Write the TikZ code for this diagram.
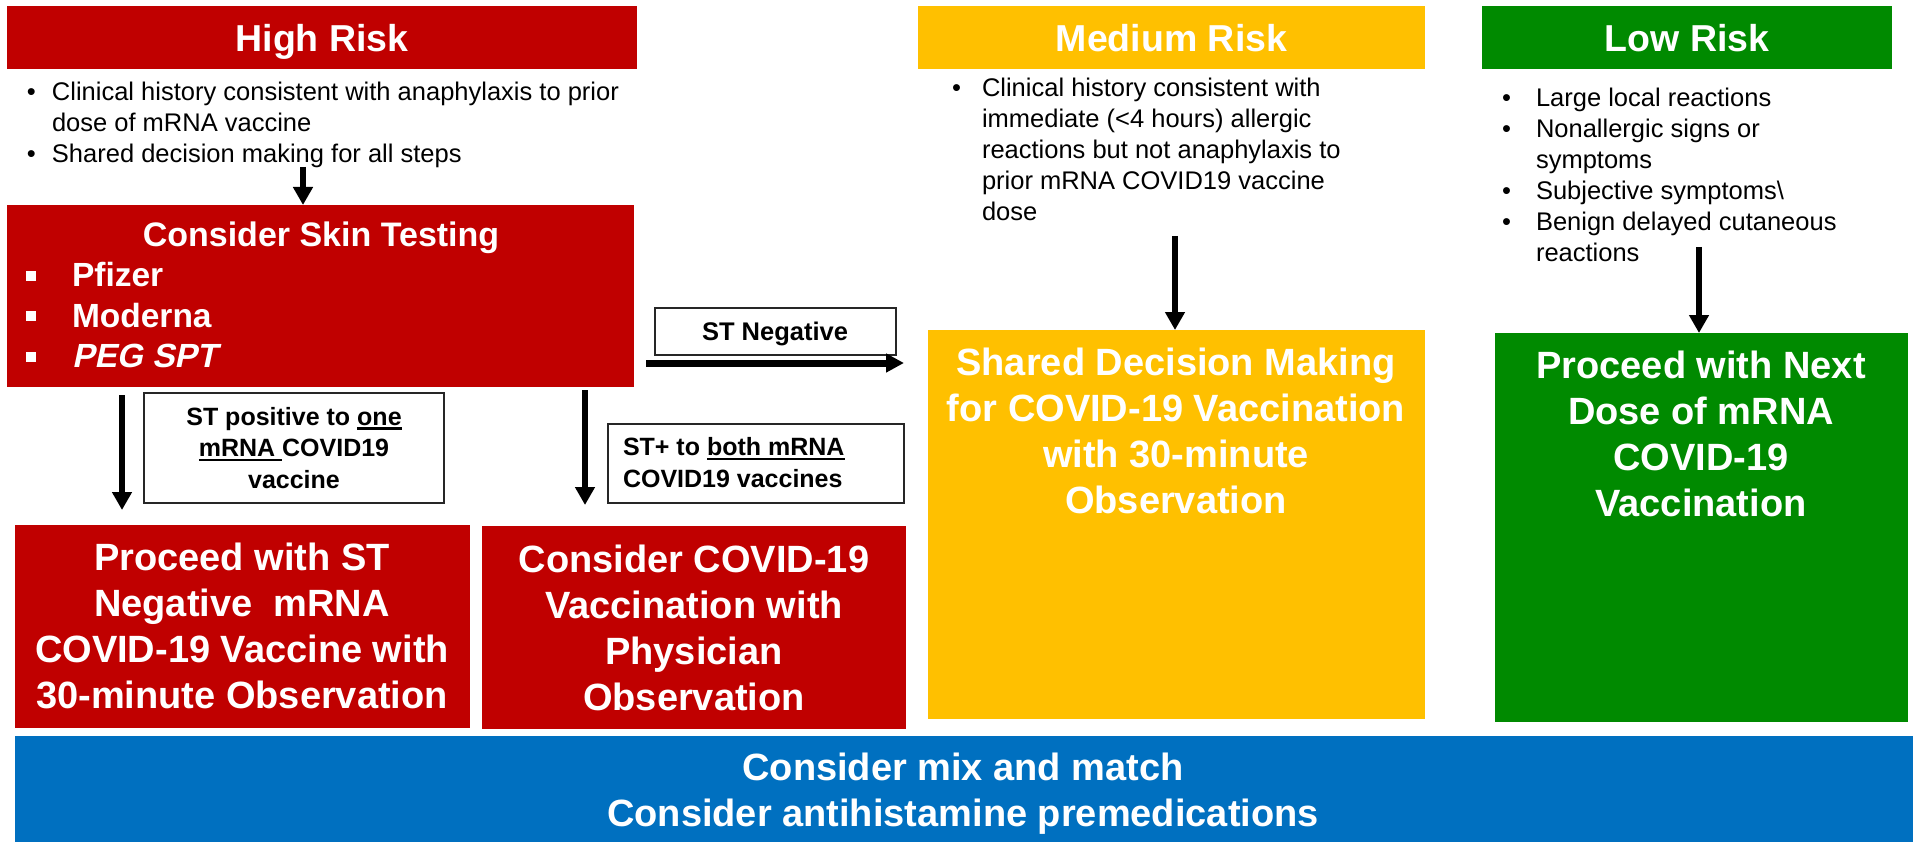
\documentclass[tikz,border=0pt]{standalone}
\usepackage{fontspec}
\setmainfont{Liberation Sans}
\newfontfamily\pegfont{Liberation Sans}[BoldFeatures={FakeSlant=0.21}]
\usetikzlibrary{arrows.meta}
\definecolor{hred}{HTML}{C00000}
\definecolor{mgold}{HTML}{FFC000}
\definecolor{lgreen}{HTML}{008A00}
\definecolor{bblue}{HTML}{0070C0}
\newcommand\myul[1]{\setbox0\hbox{#1}\rlap{\rule[-4.5pt]{\wd0}{2.5pt}}\box0}
\newcommand\sqb{\rule[6pt]{10pt}{10pt}}
\begin{document}
\begin{tikzpicture}[x=1pt,y=-1pt,
  every node/.style={inner sep=0pt,outer sep=0pt},
  box/.style={anchor=north west,draw=none},
  head/.style={text=white,font=\fontsize{37.5pt}{45pt}\selectfont\bfseries,anchor=base},
  bigtxt/.style={text=white,font=\fontsize{38pt}{46pt}\selectfont\bfseries,align=center,anchor=base},
  bultxt/.style={font=\fontsize{25.5pt}{31pt}\selectfont,anchor=base west},
  labbox/.style={anchor=north west,draw=black!85,line width=1.5pt,fill=white},
  labtxt/.style={font=\fontsize{25pt}{31.5pt}\selectfont\bfseries,align=center,anchor=base},
  arr/.style={line width=5.5pt,-{Triangle[width=19pt,length=18pt]}},
  arrh/.style={line width=7pt,-{Triangle[width=18pt,length=18pt]}}]
\useasboundingbox (0,0) rectangle (1918,842);

% headers
\node[box,fill=hred,minimum width=630pt,minimum height=63pt] (hrh) at (7,6) {};
\node[head] (hrt) at (322,52) {High Risk};
\node[box,fill=mgold,minimum width=507pt,minimum height=63pt] (mrh) at (918,6) {};
\node[head] (mrt) at (1171.5,52) {Medium Risk};
\node[box,fill=lgreen,minimum width=410pt,minimum height=63pt] (lrh) at (1482,6) {};
\node[head] (lrt) at (1687,52) {Low Risk};

% bullet lists
\node[bultxt] (hb) at (27,101) {\begin{tabular}[t]{@{}l@{}l@{}}
\makebox[25pt][l]{•}&Clinical history consistent with anaphylaxis to prior\\
&dose of mRNA vaccine\\
\makebox[25pt][l]{•}&Shared decision making for all steps
\end{tabular}};
\node[bultxt] (mb) at (952,97) {\begin{tabular}[t]{@{}l@{}l@{}}
\makebox[30pt][l]{•}&Clinical history consistent with\\
&immediate (<4 hours) allergic\\
&reactions but not anaphylaxis to\\
&prior mRNA COVID19 vaccine\\
&dose
\end{tabular}};
\node[bultxt] (lb) at (1502,107) {\begin{tabular}[t]{@{}l@{}l@{}}
\makebox[34pt][l]{•}&Large local reactions\\
\makebox[34pt][l]{•}&Nonallergic signs or\\
&symptoms\\
\makebox[34pt][l]{•}&Subjective symptoms\textbackslash\\
\makebox[34pt][l]{•}&Benign delayed cutaneous\\
&reactions
\end{tabular}};

% skin testing
\node[box,fill=hred,minimum width=627pt,minimum height=182pt] (skin) at (7,205) {};
\node[text=white,font=\fontsize{34pt}{40pt}\selectfont\bfseries,anchor=base] (skint) at (321,247) {Consider Skin Testing};
\node[text=white,font=\fontsize{33.5pt}{40.5pt}\selectfont\bfseries,anchor=base west] (skinb) at (26,287) {\begin{tabular}[t]{@{}l@{}l@{}}
\makebox[46pt][l]{\sqb}&Pfizer\\
\makebox[46pt][l]{\sqb}&Moderna\\
\makebox[46pt][l]{\sqb}&{\pegfont\bfseries PEG SPT}
\end{tabular}};

% outcome boxes (text anchored at the baseline of the last line)
\node[box,fill=hred,minimum width=455pt,minimum height=203pt] (proc) at (15,525) {};
\node[bigtxt] (proct) at (242,708) {Proceed with ST\\Negative\ \ mRNA\\COVID-19 Vaccine with\\30-minute Observation};
\node[box,fill=hred,minimum width=424pt,minimum height=203pt] (cons) at (482,526) {};
\node[bigtxt] (const) at (694,710) {Consider COVID-19\\Vaccination with\\Physician\\Observation};
\node[box,fill=mgold,minimum width=497pt,minimum height=389pt] (shared) at (928,330) {};
\node[bigtxt] (sharedt) at (1176,513) {Shared Decision Making\\for COVID-19 Vaccination\\with 30-minute\\Observation};
\node[box,fill=lgreen,minimum width=413pt,minimum height=389pt] (next) at (1495,333) {};
\node[bigtxt] (nextt) at (1701,516) {Proceed with Next\\Dose of mRNA\\COVID-19\\Vaccination};
\node[box,fill=bblue,minimum width=1898pt,minimum height=106pt] (mix) at (15,736) {};
\node[bigtxt] (mixt) at (963,826) {Consider mix and match\\Consider antihistamine premedications};

% label boxes
\node[labbox,minimum width=300pt,minimum height=110pt] (stpos) at (144,393) {};
\node[labtxt] (stpost) at (294,488) {ST positive to \myul{one}\\\myul{mRNA\ }COVID19\\vaccine};
\node[labbox,minimum width=296pt,minimum height=79pt] (stboth) at (608,424) {};
\node[labtxt,align=left,anchor=base west] (stbotht) at (623,487) {ST+ to \myul{both mRNA}\\COVID19 vaccines};
\node[labbox,minimum width=241pt,minimum height=47pt] (stneg) at (655,308) {};
\node[labtxt,font=\fontsize{25.5pt}{31.5pt}\selectfont\bfseries] (stnegt) at (775,340) {ST Negative};

% arrows
\coordinate (a1s) at (303,167);
\draw[arr] (a1s) -- (a1s |- skin.north);
\coordinate (a2s) at (122,395);
\coordinate (a2e) at (122,510);
\draw[arr] (a2s) -- (a2e);
\coordinate (a3s) at (585,390);
\coordinate (a3e) at (585,505);
\draw[arr] (a3s) -- (a3e);
\coordinate (a4s) at (646,363);
\coordinate (a4e) at (904,363);
\draw[arrh] (a4s) -- (a4e);
\coordinate (a5s) at (1175,236);
\draw[arr] (a5s) -- (a5s |- shared.north);
\coordinate (a6s) at (1699,247);
\draw[arr] (a6s) -- (a6s |- next.north);
\end{tikzpicture}
\end{document}
